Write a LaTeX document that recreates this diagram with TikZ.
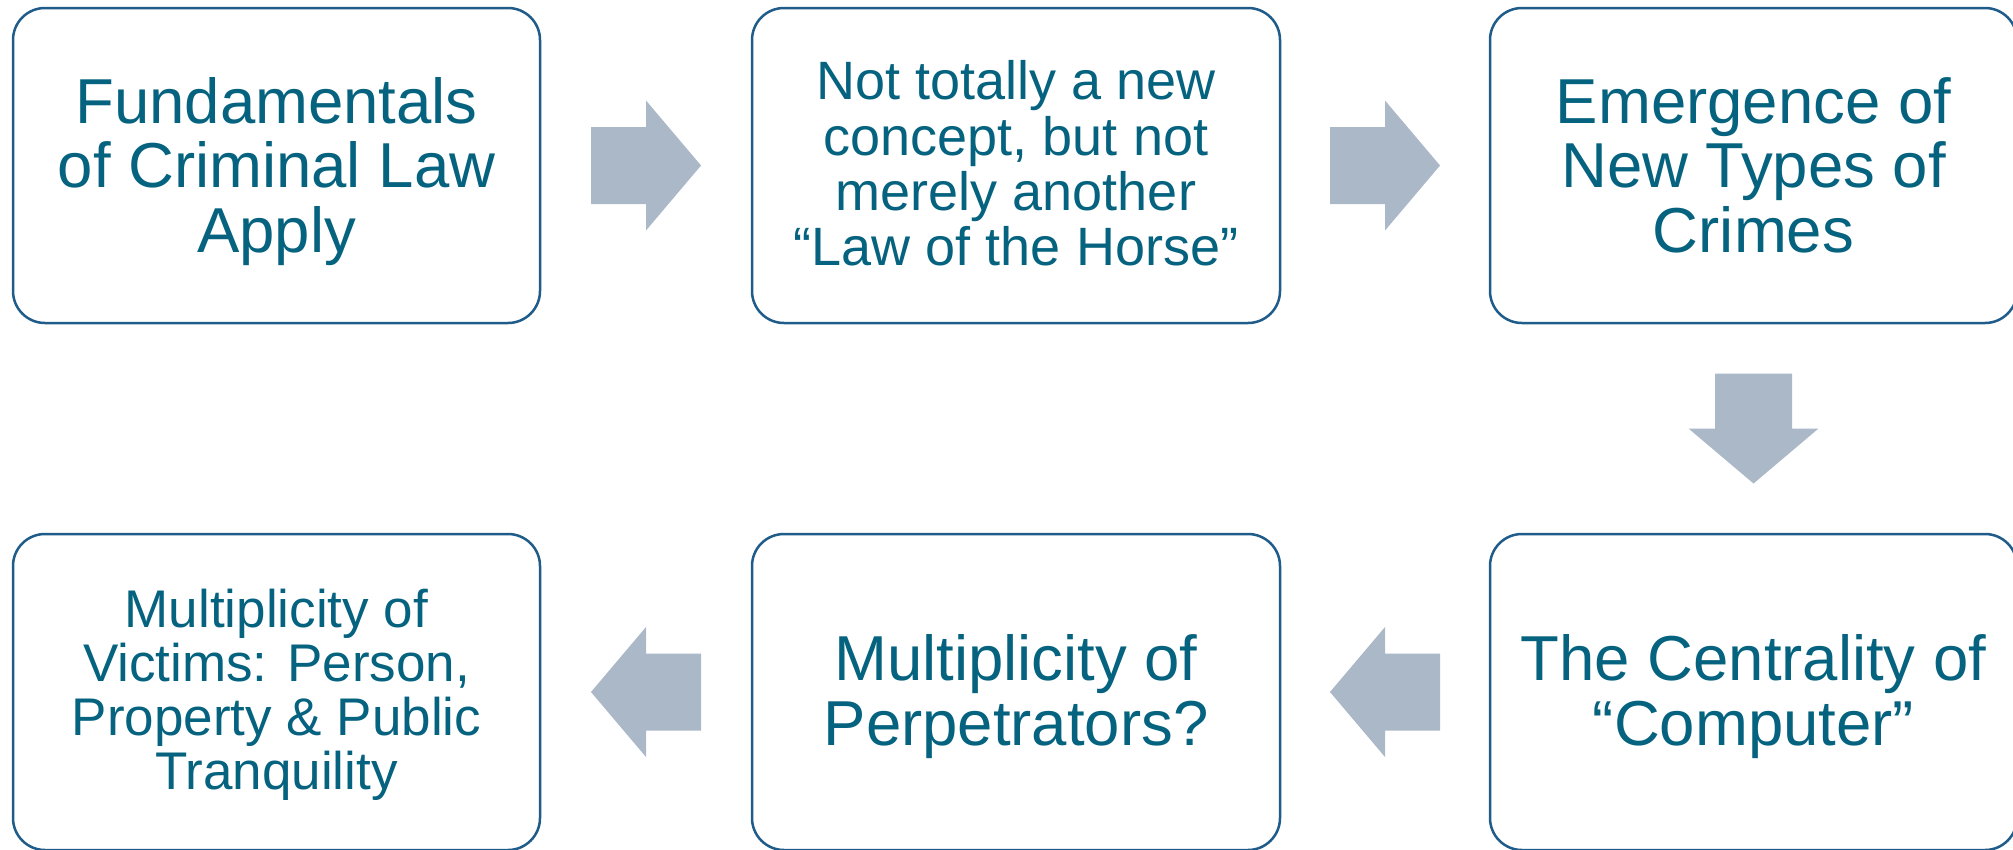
\documentclass[tikz,border=0pt]{standalone}
\usepackage{fontspec}
\setmainfont{Liberation Sans}
\usetikzlibrary{calc}
\definecolor{txtcol}{HTML}{06637F}
\definecolor{bordercol}{HTML}{1F5C8A}
\definecolor{arrcol}{HTML}{ABB8C8}
\newcommand\lnstrut{\rule[-0.21em]{0pt}{0.94em}}
\begin{document}
\begin{tikzpicture}[x=1pt,y=-1pt,
  box/.style={draw=bordercol,line width=2.5pt,rounded corners=32pt,fill=white},
  boxtext/.style={text=txtcol,align=center,inner sep=0pt,font=\fontsize{63.5}{64.5}\selectfont},
  arrowfill/.style={fill=arrcol,draw=none}]
\useasboundingbox (0,0) rectangle (2013,849);
% boxes
\draw[box] (13,8) rectangle (540,323);
\coordinate (b1) at (276.5,165.5);
\draw[box] (752,8) rectangle (1280,323);
\coordinate (b2) at (1016,165.5);
\draw[box] (1490,8) rectangle (2017,323);
\coordinate (b3) at (1753.5,165.5);
\draw[box] (1490,534) rectangle (2017,850);
\coordinate (b4) at (1753.5,692);
\draw[box] (752,534) rectangle (1280,850);
\coordinate (b5) at (1016,692);
\draw[box] (13,534) rectangle (540,850);
\coordinate (b6) at (276.5,692);
% texts
\node[boxtext] (t1) at ($(b1)+(0,5.75)$) {\lnstrut Fundamentals\\of Criminal Law\\Apply\lnstrut};
\node[boxtext,font=\fontsize{54}{55.2}\selectfont] (t2) at ($(b2)+(0,3.25)$) {\lnstrut Not totally a new\\concept, but not\\merely another\\“Law of the Horse”\lnstrut};
\node[boxtext] (t3) at ($(b3)+(0,5.75)$) {\lnstrut Emergence of\\New Types of\\Crimes\lnstrut};
\node[boxtext] (t4) at ($(b4)+(0,4.4)$) {\lnstrut The Centrality of\\“Computer”\lnstrut};
\node[boxtext] (t5) at ($(b5)+(0,4.4)$) {\lnstrut Multiplicity of\\Perpetrators?\lnstrut};
\node[boxtext,font=\fontsize{53}{54}\selectfont] (t6) at ($(b6)+(0,2.5)$) {\lnstrut Multiplicity of\\Victims: Person,\\Property \& Public\\Tranquility\lnstrut};
% arrows (centred in the gaps between the boxes)
\coordinate (a1) at ($(540,165.5)!0.5!(752,165.5)$);
\coordinate (a2) at ($(1280,165.5)!0.5!(1490,165.5)$);
\coordinate (a3) at ($(1753.5,323)!0.5!(1753.5,534)$);
\coordinate (a4) at ($(1490,692)!0.5!(1280,692)$);
\coordinate (a5) at ($(752,692)!0.5!(540,692)$);
\foreach \c in {a1,a2}{
  \fill[arrowfill,shift={(\c)}] (-55,-38.5) -- (0,-38.5) -- (0,-65) -- (55,0) -- (0,65) -- (0,38.5) -- (-55,38.5) -- cycle;}
\fill[arrowfill,shift={(a3)}] (-38.5,-55) -- (38.5,-55) -- (38.5,0) -- (65,0) -- (0,55) -- (-65,0) -- (-38.5,0) -- cycle;
\foreach \c in {a4,a5}{
  \fill[arrowfill,shift={(\c)}] (55,-38.5) -- (0,-38.5) -- (0,-65) -- (-55,0) -- (0,65) -- (0,38.5) -- (55,38.5) -- cycle;}
\end{tikzpicture}
\end{document}
